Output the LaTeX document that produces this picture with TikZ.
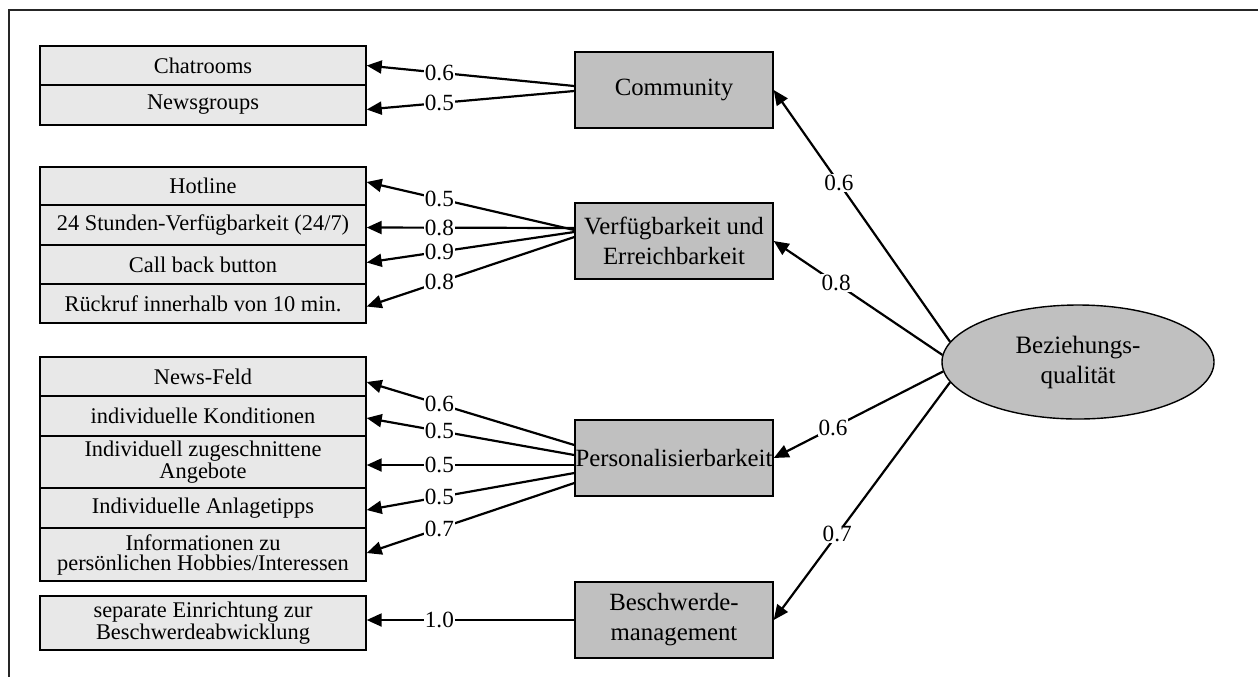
\documentclass[tikz,border=0pt]{standalone}
\usepackage{fontspec}
\setmainfont{Liberation Serif}
\usetikzlibrary{arrows.meta,shapes.geometric}
\definecolor{lightfill}{HTML}{E8E8E8}
\definecolor{midfill}{HTML}{C0C0C0}
\begin{document}
\begin{tikzpicture}[x=0.5pt,y=-0.5pt,
  lbox/.style={draw=black, line width=0.7pt, fill=lightfill, minimum width=163pt, inner sep=0pt, align=center, font=\fontsize{11.2}{10}\selectfont},
  mbox/.style={draw=black, line width=0.7pt, fill=midfill, minimum width=99pt, minimum height=38pt, inner sep=0pt, align=center, font=\fontsize{12.4}{15}\selectfont},
  lat/.style={draw=black, line width=0.7pt, fill=midfill, ellipse, minimum width=136pt, minimum height=57pt, inner sep=0pt, align=center, font=\fontsize{12.5}{15}\selectfont},
  lbl/.style={fill=white, inner sep=0.4pt, font=\fontsize{11.6}{11.6}\selectfont},
  conn/.style={line width=1.1pt, -{Triangle[length=7.5pt,width=6.5pt]}},
  frame/.style={line width=0.8pt, draw=black!85}
]
\useasboundingbox (0,0) rectangle (1258,677);
\coordinate (ftr) at (1258,10);
\coordinate (ftl) at (9,10);
\coordinate (fbl) at (9,677);
\draw[frame] (ftr) -- (ftl) -- (fbl);

% left indicator boxes
\node[lbox, minimum height=19.5pt] (chat) at (203,65.5) {Chatrooms};
\node[lbox, minimum height=20pt] (news) at (203,105) {Newsgroups};
\node[lbox, minimum height=19pt] (hot) at (203,186) {Hotline};
\node[lbox, minimum height=20pt] (h24) at (203,225) {24 Stunden-Verfügbarkeit (24/7)};
\node[lbox, minimum height=19.5pt] (call) at (203,264.5) {Call back button};
\node[lbox, minimum height=19.5pt] (rueck) at (203,303.5) {Rückruf innerhalb von 10 min.};
\node[lbox, minimum height=19.5pt] (nf) at (203,376.5) {News-Feld};
\node[lbox, minimum height=20pt] (kond) at (203,416) {individuelle Konditionen};
\node[lbox, minimum height=26pt] (ang) at (203,462) {Individuell zugeschnittene\\Angebote};
\node[lbox, minimum height=20pt] (anl) at (203,508) {Individuelle Anlagetipps};
\node[lbox, minimum height=26.5pt] (info) at (203,554.5) {Informationen zu\\persönlichen Hobbies/Interessen};
\node[lbox, minimum height=27pt] (sep) at (203,623) {separate Einrichtung zur\\Beschwerdeabwicklung};

% middle construct boxes
\node[mbox] (comm) at (674,90) {Community};
\node[mbox] (verf) at (674,241) {Verfügbarkeit und\\Erreichbarkeit};
\node[mbox] (pers) at (674,458) {Personalisierbarkeit};
\node[mbox] (besch) at (674,620) {Beschwerde-\\management};

% latent
\node[lat] (bq) at (1078,362) {Beziehungs-\\qualität};

% left connectors
\draw[conn] ([yshift=2pt]comm.west) -- node[lbl,pos=0.65]{0.6} (chat.east);
\draw[conn] ([yshift=-0.5pt]comm.west) -- node[lbl,pos=0.65]{0.5} ([yshift=-2.25pt]news.east);

\draw[conn] ([yshift=5.5pt]verf.west) -- node[lbl,pos=0.65]{0.5} ([yshift=2pt]hot.east);
\draw[conn] ([yshift=6.5pt]verf.west) -- node[lbl,pos=0.65]{0.8} ([yshift=-1.25pt]h24.east);
\draw[conn] ([yshift=4.5pt]verf.west) -- node[lbl,pos=0.65]{0.9} ([yshift=1pt]call.east);
\draw[conn] ([yshift=2pt]verf.west) -- node[lbl,pos=0.65]{0.8} ([yshift=-1.5pt]rueck.east);

\draw[conn] ([yshift=6.5pt]pers.west) -- node[lbl,pos=0.65]{0.6} ([yshift=-2.75pt]nf.east);
\draw[conn] ([yshift=1.5pt]pers.west) -- node[lbl,pos=0.65]{0.5} ([yshift=-1pt]kond.east);
\draw[conn] ([yshift=-3.5pt]pers.west) -- node[lbl,pos=0.65]{0.5} ([yshift=-1.5pt]ang.east);
\draw[conn] ([yshift=-7.5pt]pers.west) -- node[lbl,pos=0.65]{0.5} ([yshift=-1pt]anl.east);
\draw[conn] ([yshift=-12.5pt]pers.west) -- node[lbl,pos=0.65]{0.7} ([yshift=0.75pt]info.east);

\draw[conn] (besch.west) -- node[lbl,pos=0.65]{1.0} ([yshift=1.5pt]sep.east);

% right connectors
\draw[conn] (bq.171.6) -- node[lbl,pos=0.63]{0.6} (comm.east);
\draw[conn] (bq.177) -- node[lbl,pos=0.63]{0.8} (verf.east);
\draw[conn] (bq.184) -- node[lbl,pos=0.65]{0.6} (pers.east);
\draw[conn] (bq.189.4) -- node[lbl,pos=0.64]{0.7} (besch.east);
\end{tikzpicture}
\end{document}
